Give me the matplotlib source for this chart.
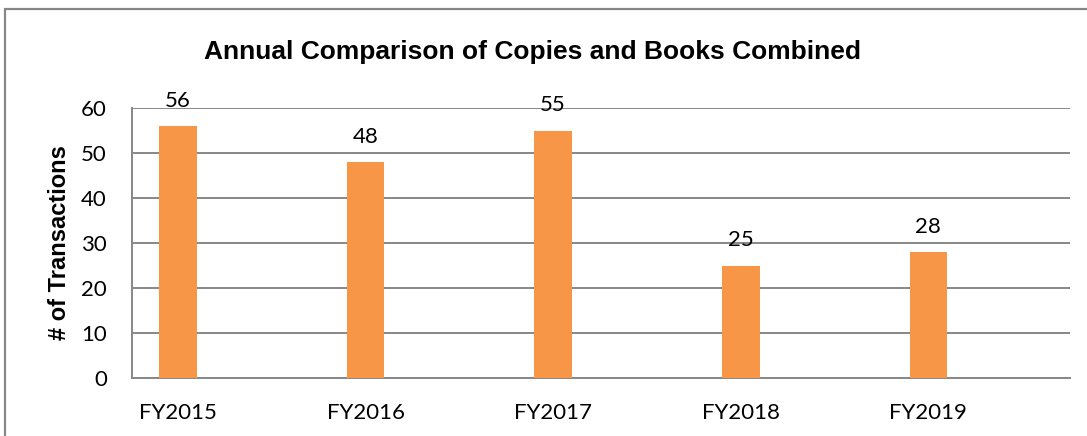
import matplotlib
matplotlib.use("Agg")
import matplotlib.pyplot as plt
from matplotlib.patches import Rectangle

categories = ["FY2015", "FY2016", "FY2017", "FY2018", "FY2019"]
values = [56, 48, 55, 25, 28]
yticks = [0, 10, 20, 30, 40, 50, 60]
title = "Annual Comparison of Copies and Books Combined"
ylabel = "# of Transactions"

W, H = 1087, 436
fig = plt.figure(figsize=(W / 100, H / 100), dpi=100)
fig.patch.set_facecolor("white")

# outer chart border
fig.patches.append(Rectangle((5 / W, -0.02), 1.1, 1 - 9.5 / H + 0.02,
                             transform=fig.transFigure, fill=False,
                             edgecolor="#878787", linewidth=1.6))

left, right, top, bottom = 132, 1070, 108, 378
ax = fig.add_axes([left / W, 1 - bottom / H, (right - left) / W, (bottom - top) / H])

x = list(range(len(categories)))
ax.bar(x, values, width=0.2, color="#F79646", zorder=3)
ax.set_xlim(-0.245, 4.755)
ax.set_ylim(0, 60)
ax.set_yticks(yticks)
ax.set_xticks(x)
ax.set_xticklabels(categories)

tick_font = "Lato"
for lab in ax.get_xticklabels() + ax.get_yticklabels():
    lab.set_fontfamily(tick_font)
    lab.set_fontsize(16)
ax.tick_params(axis="both", length=0, colors="black")
ax.tick_params(axis="x", pad=18)
ax.tick_params(axis="y", pad=18)

ax.grid(axis="y", color="#878787", linewidth=1.4, zorder=0)
for s in ["top", "right"]:
    ax.spines[s].set_visible(False)
for s in ["left", "bottom"]:
    ax.spines[s].set_color("#878787")
    ax.spines[s].set_linewidth(1.4)

for xi, v in zip(x, values):
    ax.annotate(str(v), (xi, v), xytext=(0, 11), textcoords="offset points",
                ha="center", va="bottom", fontsize=16, fontfamily=tick_font)

fig.text(60 / W, 1 - 243 / H, ylabel, rotation=90, ha="center", va="center",
         fontsize=17, fontweight="bold", fontfamily="Liberation Sans")
fig.text(532 / W, 1 - 52 / H, title, ha="center", va="center",
         fontsize=19, fontweight="bold", fontfamily="Liberation Sans")

fig.savefig("out.png", dpi=100)
